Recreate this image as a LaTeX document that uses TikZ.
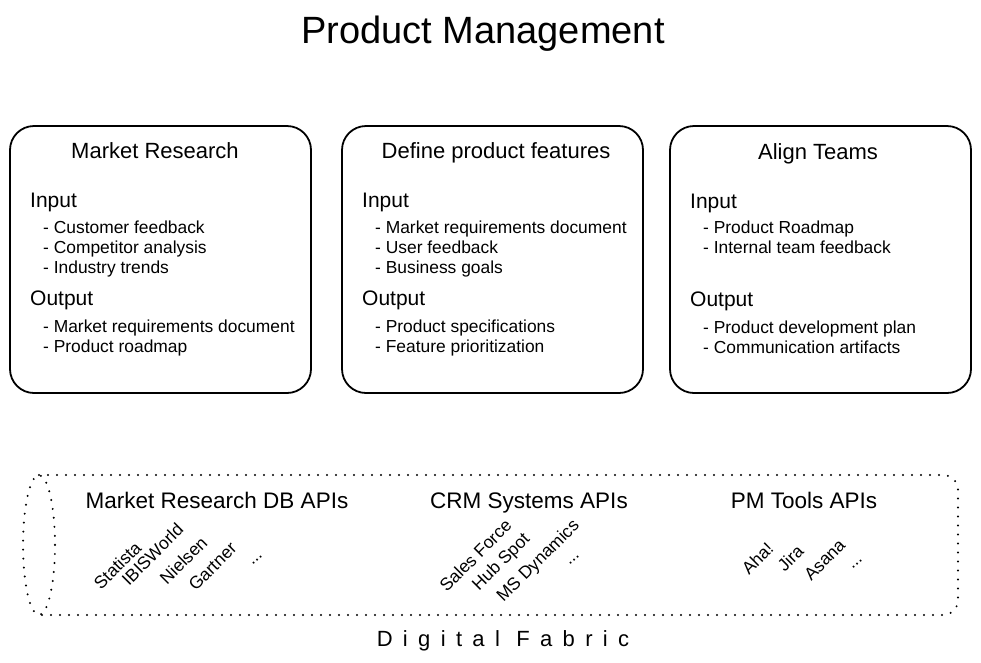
\documentclass[tikz,border=0pt]{standalone}
\usepackage{fontspec}
\setmainfont{Liberation Sans}
\begin{document}
\begin{tikzpicture}[x=1pt,y=-1pt,
  fixed/.style={text height=0.72em, text depth=0.21em},
  card/.style={draw, line width=1.8pt, rounded corners=24pt, minimum width=301pt, minimum height=267pt, inner sep=0pt},
  head/.style={font=\fontsize{22}{26}\selectfont, inner sep=0pt, fixed},
  sect/.style={font=\fontsize{21}{25}\selectfont, anchor=west, inner sep=0pt, fixed},
  item/.style={font=\fontsize{17.4}{20}\selectfont, anchor=west, inner sep=0pt, fixed},
  api/.style={font=\fontsize{22.5}{26}\selectfont, inner sep=0pt, fixed},
  tag/.style={font=\fontsize{17.5}{21}\selectfont, rotate=45, inner sep=0pt, fixed},
  dots/.style={line width=2.2pt, line cap=round, dash pattern=on 0pt off 9pt}]
\useasboundingbox (0,0) rectangle (981,662);
\fill[white] (0,0) rectangle (981,662);

\node[font=\fontsize{38}{44}\selectfont, inner sep=0pt, fixed] (title) at (483,41) {Product Management};

% cards
\node[card] (c1) at (160.5,259.5) {};
\node[card] (c2) at (492.5,259.5) {};
\node[card] (c3) at (820.5,259.5) {};

% card 1
\node[head] (h1) at (155,156) {Market Research};
\node[sect] (in1) at (30,205) {Input};
\node[item] (c1a) at (43,231) {- Customer feedback};
\node[item] (c1b) at (43,251) {- Competitor analysis};
\node[item] (c1c) at (43,271) {- Industry trends};
\node[sect] (out1) at (30,303) {Output};
\node[item] (c1d) at (43,330) {- Market requirements document};
\node[item] (c1e) at (43,350) {- Product roadmap};

% card 2
\node[head] (h2) at (496,156) {Define product features};
\node[sect] (in2) at (362,205) {Input};
\node[item] (c2a) at (375,231) {- Market requirements document};
\node[item] (c2b) at (375,251) {- User feedback};
\node[item] (c2c) at (375,271) {- Business goals};
\node[sect] (out2) at (362,303) {Output};
\node[item] (c2d) at (375,330) {- Product specifications};
\node[item] (c2e) at (375,350) {- Feature prioritization};

% card 3
\node[head] (h3) at (818,157) {Align Teams};
\node[sect] (in3) at (690,206) {Input};
\node[item] (c3a) at (703,231) {- Product Roadmap};
\node[item] (c3b) at (703,251) {- Internal team feedback};
\node[sect] (out3) at (690,304) {Output};
\node[item] (c3d) at (703,331) {- Product development plan};
\node[item] (c3e) at (703,351) {- Communication artifacts};

% digital fabric cylinder
\draw[dots] (39,545) ellipse [x radius=16, y radius=70];
\draw[dots, rounded corners=15pt] (39,475) -- (958,475) -- (958,615) -- (39,615);

\node[api] (a1) at (217,506) {Market Research DB APIs};
\node[api] (a2) at (529,506) {CRM Systems APIs};
\node[api] (a3) at (804,506) {PM Tools APIs};

\node[tag] (t1) at (120,568) {Statista};
\node[tag] (t2) at (155,557) {IBISWorld};
\node[tag] (t3) at (186,563) {Nielsen};
\node[tag] (t4) at (215,569) {Gartner};
\node[tag] (t5) at (256,559) {...};

\node[tag] (t6) at (478,558) {Sales Force};
\node[tag] (t7) at (503,564) {Hub Spot};
\node[tag] (t8) at (540,563) {MS Dynamics};
\node[tag] (t9) at (573,559) {...};

\node[tag] (t10) at (760,561) {Aha!};
\node[tag] (t11) at (793,561) {Jira};
\node[tag] (t12) at (827,562) {Asana};
\node[tag] (t13) at (856,563) {...};

\node[font=\fontsize{22}{26}\selectfont\addfontfeature{LetterSpace=47}, inner sep=0pt, fixed] (df) at (503,644) {Digital Fabric};
\end{tikzpicture}
\end{document}
